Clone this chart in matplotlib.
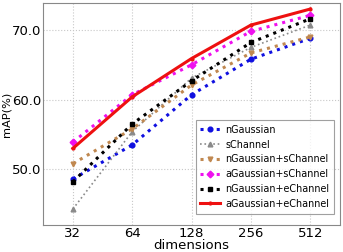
import matplotlib
matplotlib.use("Agg")
import matplotlib.pyplot as plt

dims = ["32", "64", "128", "256", "512"]
nGaussian = [48.6, 53.5, 60.7, 65.8, 68.8]
sChannel = [44.3, 55.4, 63.1, 67.5, 70.7]
nG_sC = [50.8, 55.8, 62.1, 66.7, 69.0]
aG_sC = [53.9, 60.7, 65.0, 69.8, 72.1]
nG_eC = [48.2, 56.5, 62.7, 68.2, 71.6]
aG_eC = [53.0, 60.4, 65.9, 70.7, 73.0]

fig = plt.figure(figsize=(3.43, 2.52), dpi=100)
ax = fig.add_axes([0.126, 0.107, 0.865, 0.882])
x = list(range(len(dims)))

ax.plot(x, nGaussian, color="#1010e0", linestyle=":", linewidth=2.2, marker="o", markersize=3.4, label="nGaussian")
ax.plot(x, sChannel, color="#8a8a8a", linestyle=":", linewidth=1.2, marker="^", markersize=3.4, label="sChannel")
ax.plot(x, nG_sC, color="#c08850", linestyle=":", linewidth=2.2, marker="v", markersize=3.4, label="nGaussian+sChannel")
ax.plot(x, aG_sC, color="#ee10ee", linestyle=":", linewidth=2.2, marker="D", markersize=3.4, label="aGaussian+sChannel")
ax.plot(x, nG_eC, color="black", linestyle=":", linewidth=2.2, marker="s", markersize=3.4, label="nGaussian+eChannel")
ax.plot(x, aG_eC, color="#ee1010", linestyle="-", linewidth=2.2, marker="o", markersize=2, label="aGaussian+eChannel")

ax.set_xlim(-0.5, 4.5)
ax.set_ylim(42.0, 73.9)
ax.set_xticks(x)
ax.set_xticklabels(dims)
ax.set_yticks([50, 60, 70])
ax.set_yticklabels(["50.0", "60.0", "70.0"])
ax.tick_params(labelsize=9.5, length=0, pad=1.5)
ax.grid(True, color="#c8c8c8", linestyle=":", linewidth=0.8)
for s in ax.spines.values():
    s.set_color("#888888")
    s.set_linewidth(0.8)
ax.set_xlabel("dimensions", fontsize=9.5, labelpad=-1)
ax.set_ylabel("mAP(%)", fontsize=8.2, labelpad=0)

leg = ax.legend(loc="lower right", fontsize=6.9, frameon=True, fancybox=False,
                handlelength=2.0, labelspacing=0.5, borderpad=0.5, handletextpad=0.6,
                bbox_to_anchor=(0.997, 0.03))
leg.get_frame().set_edgecolor("#888888")
leg.get_frame().set_linewidth(0.8)

fig.savefig("out.png", dpi=100)
